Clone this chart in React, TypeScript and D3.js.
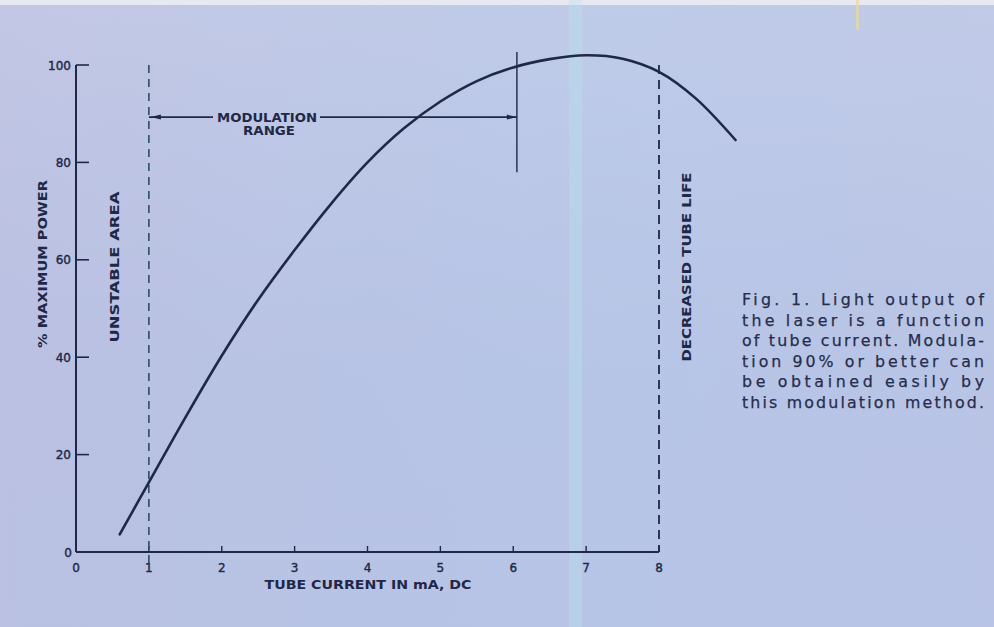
import React from "react";
import * as d3 from "d3";

const currentX = [0.6, 1.0, 1.5, 2.0, 2.5, 3.0, 3.5, 4.0, 4.5, 5.0, 5.5, 6.0, 6.5, 7.0, 7.5, 8.0, 8.5, 9.05];
const powerY = [3.6, 14.3, 27.6, 40.3, 51.8, 62.0, 71.5, 80.0, 87.0, 92.5, 96.7, 99.5, 101.2, 102.0, 101.3, 98.6, 93.2, 84.6];
const xTicks = [0, 1, 2, 3, 4, 5, 6, 7, 8];
const yTicks = [0, 20, 40, 60, 80, 100];
const unstableAt = [1];
const decreasedAt = [8];
const modulationRange = [1, 6.05];
const modulationLevel = [89.3];
const captionLines = [
  "Fig. 1. Light output of",
  "the laser is a function",
  "of tube current. Modula-",
  "tion 90% or better can",
  "be obtained easily by",
  "this modulation method.",
];

const W = 994;
const H = 627;
const INK = "#1f2846";
const FONT = "'DejaVu Sans', Verdana, sans-serif";

export default function App() {
  const x = d3.scaleLinear().domain([0, 8]).range([76, 659]);
  const y = d3.scaleLinear().domain([0, 100]).range([552, 65]);
  const pts: [number, number][] = currentX.map((v, i) => [v, powerY[i]]);
  const line = d3
    .line<[number, number]>()
    .x((d) => x(d[0]))
    .y((d) => y(d[1]))
    .curve(d3.curveCatmullRom.alpha(0.5));

  const modY = y(modulationLevel[0]);
  const mx0 = x(modulationRange[0]);
  const mx1 = x(modulationRange[1]);

  return (
    <svg
      width={W}
      height={H}
      viewBox={`0 0 ${W} ${H}`}
      style={{ position: "absolute", left: 0, top: 0, display: "block" }}
    >
      <defs>
        <linearGradient id="bg" x1="0" y1="0" x2="1" y2="0">
          <stop offset="0" stopColor="#bdc2e2" />
          <stop offset="0.3" stopColor="#bbc5e5" />
          <stop offset="0.6" stopColor="#b9c7e7" />
          <stop offset="1" stopColor="#bcc6e6" />
        </linearGradient>
        <linearGradient id="bgv" x1="0" y1="0" x2="0" y2="1">
          <stop offset="0" stopColor="#ffffff" stopOpacity="0.08" />
          <stop offset="0.6" stopColor="#8fa5dc" stopOpacity="0.06" />
          <stop offset="1" stopColor="#9bb0e0" stopOpacity="0.1" />
        </linearGradient>
      </defs>
      <rect x={0} y={0} width={W} height={H} fill="url(#bg)" />
      <rect x={0} y={0} width={W} height={H} fill="url(#bgv)" />
      <rect x={0} y={0} width={W} height={5} fill="#e6e9f2" />
      <rect x={569} y={0} width={13} height={H} fill="#b8e2ea" opacity={0.4} />
      <rect x={856} y={0} width={3} height={30} fill="#e8dc9a" opacity={0.7} />

      {/* axes */}
      <line x1={x(0)} y1={y(0)} x2={x(8)} y2={y(0)} stroke={INK} strokeWidth={2} />
      <line x1={x(0)} y1={y(0)} x2={x(0)} y2={y(100)} stroke={INK} strokeWidth={2} />
      {yTicks.map((t) => (
        <g key={"yt" + t}>
          {t > 0 && (
            <line x1={x(0)} x2={x(0) + 13} y1={y(t)} y2={y(t)} stroke={INK} strokeWidth={1.6} />
          )}
          <text
            x={t === 0 ? 72 : 71}
            y={y(t) + 4.5}
            textAnchor="end"
            fontFamily={FONT}
            fontSize={12}
            fill={INK}
            stroke={INK}
            strokeWidth={0.4}
          >
            {t}
          </text>
        </g>
      ))}
      {xTicks.map((t) => (
        <g key={"xt" + t}>
          {t > 0 && (
            <line x1={x(t)} x2={x(t)} y1={y(0)} y2={y(0) - 6} stroke={INK} strokeWidth={1.4} />
          )}
          <text
            x={x(t)}
            y={572}
            textAnchor="middle"
            fontFamily={FONT}
            fontSize={12}
            fill={INK}
            stroke={INK}
            strokeWidth={0.4}
          >
            {t}
          </text>
        </g>
      ))}

      {/* dashed boundaries */}
      {unstableAt.map((v) => (
        <line
          key={"u" + v}
          x1={x(v)}
          x2={x(v)}
          y1={y(100)}
          y2={567}
          stroke="#2c4f60"
          strokeWidth={1.6}
          strokeDasharray="8 6"
        />
      ))}
      {decreasedAt.map((v) => (
        <line
          key={"d" + v}
          x1={x(v)}
          x2={x(v)}
          y1={y(100)}
          y2={y(0)}
          stroke={INK}
          strokeWidth={1.8}
          strokeDasharray="9 6"
        />
      ))}

      {/* modulation range */}
      <line x1={mx0} x2={213} y1={modY} y2={modY} stroke={INK} strokeWidth={1.8} />
      <line x1={320} x2={mx1} y1={modY} y2={modY} stroke={INK} strokeWidth={1.8} />
      <path d={`M${mx0 + 2},${modY} L${mx0 + 12},${modY - 2.5} L${mx0 + 12},${modY + 2.5} Z`} fill={INK} />
      <path d={`M${mx1},${modY} L${mx1 - 10},${modY - 2.5} L${mx1 - 10},${modY + 2.5} Z`} fill={INK} />
      <line x1={mx1} x2={mx1} y1={52} y2={y(78)} stroke={INK} strokeWidth={1.4} />
      <text
        x={267}
        y={modY + 5}
        textAnchor="middle"
        fontFamily={FONT}
        fontSize={11.5}
        fontWeight="bold"
        fill={INK}
        textLength={100}
        lengthAdjust="spacingAndGlyphs"
      >
        MODULATION
      </text>
      <text
        x={269}
        y={modY + 18}
        textAnchor="middle"
        fontFamily={FONT}
        fontSize={11.5}
        fontWeight="bold"
        fill={INK}
        textLength={52}
        lengthAdjust="spacingAndGlyphs"
      >
        RANGE
      </text>

      {/* curve */}
      <path d={line(pts) || ""} fill="none" stroke={INK} strokeWidth={2.6} strokeLinecap="round" />

      {/* axis titles */}
      <text
        x={368}
        y={589}
        textAnchor="middle"
        fontFamily={FONT}
        fontSize={11.5}
        fontWeight="bold"
        fill={INK}
        textLength={207}
        lengthAdjust="spacingAndGlyphs"
      >
        TUBE CURRENT IN mA, DC
      </text>
      <text
        transform={`translate(47,264) rotate(-90)`}
        textAnchor="middle"
        fontFamily={FONT}
        fontSize={11.5}
        fontWeight="bold"
        fill={INK}
        textLength={168}
        lengthAdjust="spacingAndGlyphs"
      >
        % MAXIMUM POWER
      </text>
      <text
        transform={`translate(119,267) rotate(-90)`}
        textAnchor="middle"
        fontFamily={FONT}
        fontSize={11.5}
        fontWeight="bold"
        fill={INK}
        textLength={151}
        lengthAdjust="spacingAndGlyphs"
      >
        UNSTABLE AREA
      </text>
      <text
        transform={`translate(691,267) rotate(-90)`}
        textAnchor="middle"
        fontFamily={FONT}
        fontSize={11.5}
        fontWeight="bold"
        fill={INK}
        textLength={189}
        lengthAdjust="spacingAndGlyphs"
      >
        DECREASED TUBE LIFE
      </text>

      {/* caption */}
      {captionLines.map((l, i) => (
        <text
          key={"c" + i}
          x={742}
          y={305 + i * 20.6}
          fontFamily="'DejaVu Sans', sans-serif"
          fontSize={15.8}
          fill="#262d4c"
          stroke="#262d4c"
          strokeWidth={0.25}
          textLength={242}
          lengthAdjust="spacing"
        >
          {l}
        </text>
      ))}
    </svg>
  );
}
